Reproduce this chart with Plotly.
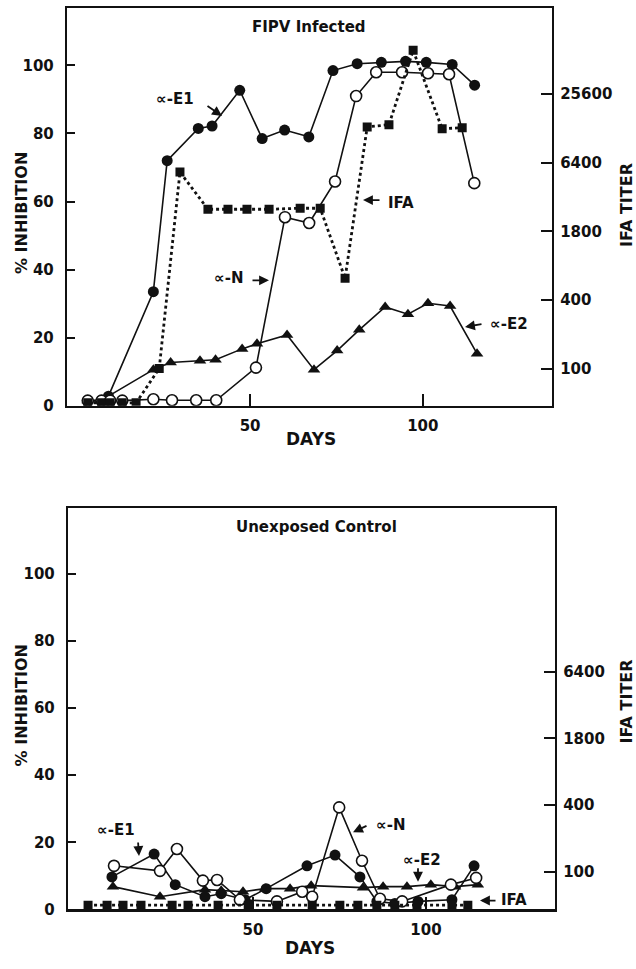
import plotly.graph_objects as go

W, H = 636, 969

# ---------------- data: FIPV infected (top) ----------------
top_e1_days = [3, 7, 9, 22, 26, 35, 39, 47, 53.5, 60, 67, 74, 81, 88, 95, 101, 108.5, 115]
top_e1 = [1.5, 1.5, 2.8, 33.5, 72, 81.5, 82.2, 92.7, 78.5, 81, 79, 98.5, 100.5, 100.9, 101.2, 100.9, 100.3, 94.2]

top_e2_days = [3, 7, 9, 22, 27, 35.5, 40, 47.7, 52, 60.7, 68.5, 75.2, 81.6, 89.1, 95.7, 101.5, 107.9, 115.7]
top_e2 = [1.5, 1.5, 2.8, 10.6, 12.7, 13.2, 13.5, 16.7, 18.2, 20.8, 10.6, 16.2, 22.3, 29.0, 26.9, 30.1, 29.3, 15.3]

top_n_days = [3, 7, 9.5, 13, 22, 27.4, 34.4, 40.2, 51.7, 60.1, 67.1, 74.6, 80.7, 86.5, 94, 101.5, 107.6, 114.9]
top_n = [1.5, 1.5, 1.5, 1.5, 1.9, 1.6, 1.6, 1.6, 11.2, 55.4, 53.7, 65.9, 91.0, 98.0, 98.0, 97.7, 97.4, 65.4]

top_ifa_days = [3, 7, 9.5, 13, 17, 23.7, 29.7, 37.8, 43.6, 49.1, 55.5, 64.5, 70.3, 77.5, 83.9, 90.2, 97.2, 105.6, 111.4]
top_ifa_titer = [50, 50, 50, 50, 50, 100, 5300, 2500, 2500, 2500, 2500, 2550, 2550, 620, 13200, 13800, 62000, 12700, 13000]

# ---------------- data: unexposed control (bottom) ----------------
bot_e1_days = [9.2, 21.4, 27.5, 36.1, 40.8, 47.7, 53.8, 65.6, 73.7, 80.9, 85.8, 91.0, 97.7, 107.5, 113.9]
bot_e1 = [9.7, 16.5, 7.4, 3.8, 4.7, 2.9, 6.2, 13.0, 16.2, 9.7, 2.4, 1.8, 2.4, 2.9, 13.0]

bot_n_days = [9.8, 23.1, 28.0, 35.5, 39.6, 46.2, 56.9, 64.2, 67.1, 74.9, 81.5, 86.7, 93.1, 107.2, 114.5]
bot_n = [13.0, 11.5, 18.0, 8.6, 8.8, 2.9, 2.4, 5.3, 3.8, 30.4, 14.5, 3.2, 2.4, 7.4, 9.4]

bot_e2_days = [9.5, 23.1, 36.1, 40.8, 47.1, 53.5, 60.7, 66.8, 81.8, 87.6, 94.5, 101.4, 108.4, 115.0]
bot_e2 = [6.8, 3.8, 5.9, 5.6, 5.3, 6.2, 6.2, 7.1, 6.5, 6.8, 6.8, 7.4, 6.8, 7.4]

bot_ifa_days = [2.3, 7.8, 12.4, 17.6, 26.6, 31.2, 39.9, 48.6, 56.9, 67.1, 75.1, 80.3, 85.8, 91.0, 97.4, 107.5, 112.1]
bot_ifa_titer = [50, 50, 50, 50, 50, 50, 50, 50, 50, 50, 50, 50, 50, 50, 50, 50, 50]

# ---------------- tick labels ----------------
x_ticks = [50, 100]
pct_ticks = [0, 20, 40, 60, 80, 100]
top_titer_ticks = [100, 400, 1600, 6400, 25600]
top_titer_labels = ["100", "400", "1800", "6400", "25600"]
bot_titer_ticks = [100, 400, 1600, 6400]
bot_titer_labels = ["100", "400", "1800", "6400"]

FONT = "DejaVu Sans, Liberation Sans, sans-serif"
BLACK = "#111111"


def pxx(x):
    return x / W


def pxy(y):
    return 1 - y / H


fig = go.Figure()


def add_panel(xa, ya, ya2, e1d, e1, e2d, e2, nd, n, ifad, ifa):
    fig.add_trace(go.Scatter(x=e2d, y=e2, xaxis=xa, yaxis=ya, mode="lines+markers",
                             line=dict(color=BLACK, width=1.6),
                             marker=dict(symbol="triangle-up", size=11, color=BLACK)))
    fig.add_trace(go.Scatter(x=e1d, y=e1, xaxis=xa, yaxis=ya, mode="lines+markers",
                             line=dict(color=BLACK, width=1.6),
                             marker=dict(symbol="circle", size=11, color=BLACK)))
    fig.add_trace(go.Scatter(x=nd, y=n, xaxis=xa, yaxis=ya, mode="lines+markers",
                             line=dict(color=BLACK, width=1.6),
                             marker=dict(symbol="circle", size=11, color="white",
                                         line=dict(color=BLACK, width=1.6))))
    fig.add_trace(go.Scatter(x=ifad, y=ifa, xaxis=xa, yaxis=ya2, mode="lines+markers",
                             line=dict(color=BLACK, width=2.8, dash="dot"),
                             marker=dict(symbol="square", size=9, color=BLACK)))


add_panel("x", "y", "y2", top_e1_days, top_e1, top_e2_days, top_e2,
          top_n_days, top_n, top_ifa_days, top_ifa_titer)
add_panel("x2", "y3", "y4", bot_e1_days, bot_e1, bot_e2_days, bot_e2,
          bot_n_days, bot_n, bot_ifa_days, bot_ifa_titer)

tickfont = dict(family=FONT, size=15, color=BLACK, weight="bold")

common_x = dict(showline=True, linewidth=2.2, linecolor=BLACK, mirror=True,
                ticks="inside", ticklen=12, tickwidth=2, tickcolor=BLACK,
                ticklabelstandoff=5,
                tickvals=x_ticks, showgrid=False, zeroline=False, tickfont=tickfont)
common_y = dict(showline=True, linewidth=2.2, linecolor=BLACK, mirror=True,
                ticks="inside", ticklen=8, tickwidth=2, tickcolor=BLACK,
                ticklabelstandoff=8,
                tickvals=pct_ticks, showgrid=False, zeroline=False, tickfont=tickfont)
common_y2 = dict(type="log", side="right", showline=True, linewidth=2.2, linecolor=BLACK,
                 ticks="inside", ticklen=11, tickwidth=2, tickcolor=BLACK,
                 ticklabelstandoff=3,
                 showgrid=False, zeroline=False, tickfont=tickfont)

# top panel: plot area pixels x 67..552, y 8..409.5
fig.update_layout(
    xaxis=dict(domain=[pxx(67), pxx(552)], range=[-3.0, 137.4], anchor="y", **common_x),
    yaxis=dict(domain=[pxy(409.5), pxy(8)], range=[0, 116.9], anchor="x", **common_y),
    yaxis2=dict(overlaying="y", anchor="x", range=[1.674, 5.1646],
                tickvals=top_titer_ticks, ticktext=top_titer_labels, **common_y2),
    xaxis2=dict(domain=[pxx(68), pxx(555)], range=[-3.5, 137.3], anchor="y3", **common_x),
    yaxis3=dict(domain=[pxy(918), pxy(513)], range=[0, 119.5], anchor="x2", **common_y),
    yaxis4=dict(overlaying="y3", anchor="x2", range=[1.660, 5.283],
                tickvals=bot_titer_ticks, ticktext=bot_titer_labels, **common_y2),
)

ann = []


def text(x, y, s, size=15, angle=0):
    ann.append(dict(x=pxx(x), y=pxy(y), xref="paper", yref="paper", text=s,
                    showarrow=False, textangle=angle, xanchor="center", yanchor="middle",
                    font=dict(family=FONT, size=size, color=BLACK)))


def arrow(x0, y0, x1, y1):
    # tail (x0,y0) -> head (x1,y1) in pixels
    ann.append(dict(x=pxx(x1), y=pxy(y1), xref="paper", yref="paper", text="",
                    showarrow=True, ax=x0 - x1, ay=y0 - y1, axref="pixel", ayref="pixel",
                    arrowhead=2, arrowsize=1.1, arrowwidth=1.8, arrowcolor=BLACK))


# top panel labels
text(309, 27, "<b>FIPV Infected</b>", 15)
text(175, 100, "<b>∝-E1</b>", 15)
arrow(206, 106, 222, 117)
text(229, 281, "<b>∝-N</b>", 15)
arrow(251, 283, 269, 283)
text(401, 205, "<b>IFA</b>", 15)
arrow(381, 202, 363, 202)
text(509, 327, "<b>∝-E2</b>", 15)
arrow(483, 327, 465, 330)
text(21, 215, "<b>% INHIBITION</b>", 16, -90)
text(626, 207, "<b>IFA TITER</b>", 16, -90)
text(311, 443, "<b>DAYS</b>", 17)

# bottom panel labels
text(316, 532, "<b>Unexposed Control</b>", 15)
text(116, 838, "<b>∝-E1</b>", 15)
arrow(138, 849, 139, 864)
text(390, 833, "<b>∝-N</b>", 15)
arrow(368, 833, 353, 840)
text(422, 868, "<b>∝-E2</b>", 15)
arrow(418, 875, 418, 890)
text(514, 908, "<b>IFA</b>", 15)
arrow(497, 909, 480, 909)
text(21, 712, "<b>% INHIBITION</b>", 16, -90)
text(626, 708, "<b>IFA TITER</b>", 16, -90)
text(310, 957, "<b>DAYS</b>", 17)

fig.update_layout(
    annotations=ann,
    width=W, height=H,
    margin=dict(l=0, r=0, t=0, b=0),
    paper_bgcolor="white", plot_bgcolor="white",
    showlegend=False,
    font=dict(family=FONT, color=BLACK),
)

fig.write_html(
    "out.html",
    config={"displayModeBar": False, "staticPlot": True},
    post_script="document.body.style.margin='0';document.body.style.padding='0';"
                "document.body.style.overflow='hidden';"
                "document.documentElement.style.overflow='hidden';",
)
